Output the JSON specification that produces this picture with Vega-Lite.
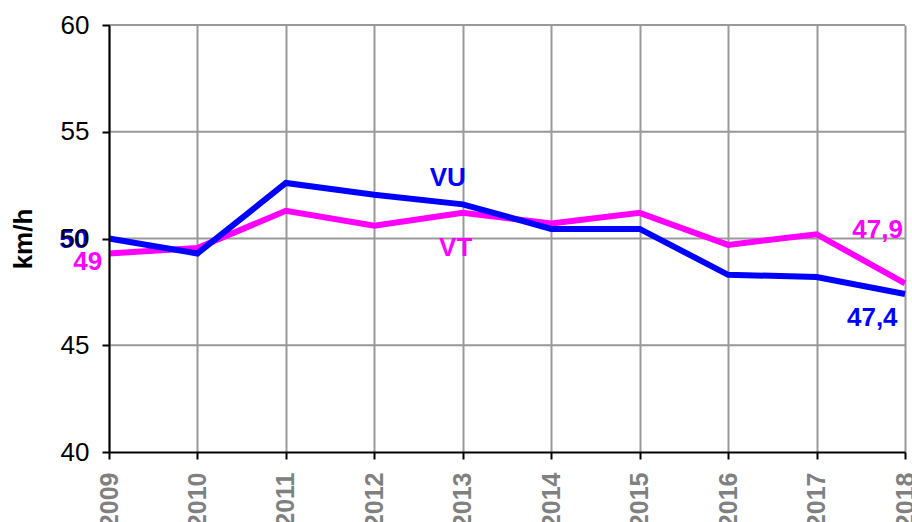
{
  "$schema": "https://vega.github.io/schema/vega-lite/v6.json",
  "width": 796,
  "height": 427,
  "autosize": "none",
  "padding": {"left": 109, "top": 25, "right": 7, "bottom": 70},
  "background": "white",
  "config": {
    "view": {"stroke": null},
    "font": "Liberation Sans",
    "axis": {
      "domainColor": "#000000",
      "domainWidth": 2,
      "tickColor": "#000000",
      "tickWidth": 2,
      "tickSize": 7,
      "gridColor": "#999999",
      "gridWidth": 2
    }
  },
  "datasets": {
    "gridY": [{"v": 45}, {"v": 50}, {"v": 55}, {"v": 60}],
    "speeds": [
      {"year": 2009, "series": "VT", "value": 49.3},
      {"year": 2010, "series": "VT", "value": 49.55},
      {"year": 2011, "series": "VT", "value": 51.3},
      {"year": 2012, "series": "VT", "value": 50.6},
      {"year": 2013, "series": "VT", "value": 51.2},
      {"year": 2014, "series": "VT", "value": 50.7},
      {"year": 2015, "series": "VT", "value": 51.2},
      {"year": 2016, "series": "VT", "value": 49.7},
      {"year": 2017, "series": "VT", "value": 50.2},
      {"year": 2018, "series": "VT", "value": 47.9},
      {"year": 2009, "series": "VU", "value": 50.0},
      {"year": 2010, "series": "VU", "value": 49.3},
      {"year": 2011, "series": "VU", "value": 52.6},
      {"year": 2012, "series": "VU", "value": 52.05},
      {"year": 2013, "series": "VU", "value": 51.6},
      {"year": 2014, "series": "VU", "value": 50.45},
      {"year": 2015, "series": "VU", "value": 50.45},
      {"year": 2016, "series": "VU", "value": 48.3},
      {"year": 2017, "series": "VU", "value": 48.2},
      {"year": 2018, "series": "VU", "value": 47.4}
    ],
    "labels": [
      {"label": "50", "series": "VU", "lx": 2008.6, "ly": 49.93},
      {"label": "49", "series": "VT", "lx": 2008.76, "ly": 48.9},
      {"label": "VU", "series": "VU", "lx": 2012.83, "ly": 52.83},
      {"label": "VT", "series": "VT", "lx": 2012.92, "ly": 49.56},
      {"label": "47,9", "series": "VT", "lx": 2017.69, "ly": 50.4},
      {"label": "47,4", "series": "VU", "lx": 2017.63, "ly": 46.28}
    ]
  },
  "layer": [
    {
      "data": {"name": "gridY"},
      "mark": {"type": "rule", "color": "#999999", "strokeWidth": 2},
      "encoding": {
        "y": {"field": "v", "type": "quantitative"}
      }
    },
    {
      "data": {"name": "speeds"},
      "mark": {"type": "line", "strokeWidth": 6},
      "encoding": {
        "x": {
          "field": "year",
          "type": "quantitative",
          "scale": {"domain": [2009, 2018], "nice": false, "zero": false},
          "axis": {
            "values": [2009, 2010, 2011, 2012, 2013, 2014, 2015, 2016, 2017, 2018],
            "format": "d",
            "title": null,
            "labelAngle": -90,
            "labelAlign": "right",
            "labelBaseline": "middle",
            "labelColor": "#808080",
            "labelFontWeight": "bold",
            "labelFontSize": 25,
            "labelPadding": 13,
            "labelFlush": false,
            "labelOverlap": false
          }
        },
        "y": {
          "field": "value",
          "type": "quantitative",
          "scale": {"domain": [40, 60], "nice": false, "zero": false},
          "axis": {
            "values": [40, 45, 50, 55, 60],
            "grid": false,
            "zindex": 1,
            "title": "km/h",
            "titleFontSize": 26,
            "titleFontWeight": "bold",
            "titleColor": "#000000",
            "titlePadding": 24,
            "labelFontSize": 26,
            "labelColor": "#000000",
            "labelPadding": 13,
            "labelFlush": false,
            "labelOverlap": false
          }
        },
        "color": {
          "field": "series",
          "type": "nominal",
          "scale": {"domain": ["VT", "VU"], "range": ["#FF00FF", "#0000FF"]},
          "legend": null
        }
      }
    },
    {
      "data": {"name": "labels"},
      "mark": {"type": "text", "fontSize": 26, "fontWeight": "bold", "baseline": "middle", "align": "center", "clip": false},
      "encoding": {
        "x": {"field": "lx", "type": "quantitative"},
        "y": {"field": "ly", "type": "quantitative"},
        "text": {"field": "label"},
        "color": {"field": "series", "type": "nominal", "legend": null}
      }
    }
  ]
}
